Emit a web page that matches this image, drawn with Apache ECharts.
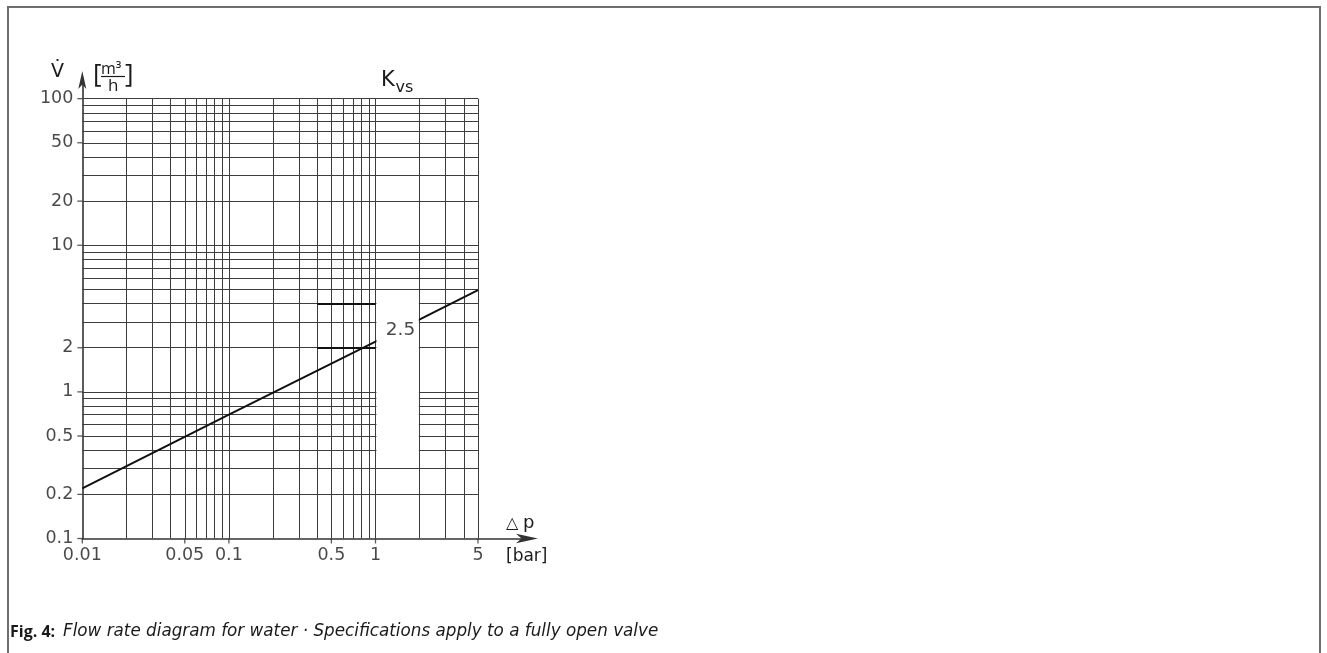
<!DOCTYPE html>
<html>
<head>
<meta charset="utf-8">
<script src="https://cdn.jsdelivr.net/npm/echarts@6/dist/echarts.min.js"></script>
<style>
html,body{margin:0;padding:0;background:#fff;width:1327px;height:653px;overflow:hidden;}
#frame{position:absolute;left:7px;top:6px;width:1314px;height:700px;border:2px solid #6e6e6e;border-bottom:none;box-sizing:border-box;}
#chart{position:absolute;left:0;top:0;width:1327px;height:653px;}
</style>
</head>
<body>
<div id="frame"></div>
<div id="chart"></div>
<script>
// ---- data ----
const dpValues   = [0.01, 0.1, 1, 5];          // Δp [bar]
const flowValues = [0.22, 0.7, 2.2, 4.95];     // V̇ [m³/h] for Kvs 2.5 line

const xTickValues = [0.01, 0.05, 0.1, 0.5, 1, 5];
const xTickLabels = ['0.01', '0.05', '0.1', '0.5', '1', '5'];
const yTickValues = [0.1, 0.2, 0.5, 1, 2, 10, 20, 50, 100];
const yTickLabels = ['0.1', '0.2', '0.5', '1', '2', '10', '20', '50', '100'];

const xGridValues = [0.02, 0.03, 0.04, 0.05, 0.06, 0.07, 0.08, 0.09,
                     0.1, 0.2, 0.3, 0.4, 0.5, 0.6, 0.7, 0.8, 0.9,
                     1, 2, 3, 4, 5];
const yGridValues = [0.2, 0.3, 0.4, 0.5, 0.6, 0.7, 0.8, 0.9,
                     1, 2, 3, 4, 5, 6, 7, 8, 9,
                     10, 20, 30, 40, 50, 60, 70, 80, 90, 100];

const kvsLabel = '2.5';
const kvsLabelPos = [1.48, 2.64];
const kvsBox = [1.015, 0.305, 1.975, 4.85];
const kvsMarkValues = [4, 2];
const kvsMarkFrom = 0.4;

const xRange = [0.01, 10.8];
const yRange = [0.1, 134];
const gridXEnd = 5, gridYEnd = 100;

// ---- chart ----
const FONT = '"DejaVu Sans", "Open Sans", sans-serif';
const FONT2 = '"Open Sans", "Noto Sans", sans-serif';
const chart = echarts.init(document.getElementById('chart'), null, {renderer: 'canvas'});

const gridLines = xGridValues.map(x => ({coords: [[x, yRange[0]], [x, gridYEnd]]}))
  .concat(yGridValues.map(y => ({coords: [[xRange[0], y], [gridXEnd, y]]})));
const kvsSegs = kvsMarkValues.map(y => ({coords: [[kvsMarkFrom, y], [1, y]]}));

const axisCommon = {
  type: 'log', logBase: 10,
  axisTick: {show: false}, axisLabel: {show: false},
  splitLine: {show: false}, minorTick: {show: false}, minorSplitLine: {show: false}
};

const option = {
  animation: false,
  grid: {left: 82.3, right: 800, top: 80, bottom: 114.5},
  xAxis: Object.assign({}, axisCommon, {
    min: xRange[0], max: xRange[1],
    axisLine: {show: true, lineStyle: {color: '#333', width: 1.6},
      symbol: ['none', 'arrow'], symbolSize: [7, 22], symbolOffset: [0, 11]}
  }),
  yAxis: Object.assign({}, axisCommon, {
    min: yRange[0], max: yRange[1],
    axisLine: {show: true, lineStyle: {color: '#333', width: 1.6},
      symbol: ['none', 'arrow'], symbolSize: [6, 18], symbolOffset: [0, 9]}
  }),
  series: [
    {
      type: 'lines', coordinateSystem: 'cartesian2d', polyline: false, silent: true, z: 1,
      lineStyle: {color: '#3c3c3c', width: 1, opacity: 1, curveness: 0},
      data: gridLines
    },
    {
      type: 'lines', coordinateSystem: 'cartesian2d', polyline: false, silent: true, z: 2,
      lineStyle: {color: '#111', width: 1.8, opacity: 1, curveness: 0},
      data: kvsSegs
    },
    {
      type: 'line', z: 3, symbol: 'none', silent: true,
      lineStyle: {color: '#111', width: 2},
      data: dpValues.map((d, i) => [d, flowValues[i]])
    },
    {
      type: 'custom', z: 4, silent: true, clip: false,
      renderItem: function (params, api) {
        const p0 = api.coord([api.value(0), api.value(1)]);
        const p1 = api.coord([api.value(2), api.value(3)]);
        return {
          type: 'rect',
          shape: {x: Math.min(p0[0], p1[0]), y: Math.min(p0[1], p1[1]),
                  width: Math.abs(p1[0] - p0[0]), height: Math.abs(p1[1] - p0[1])},
          style: {fill: '#fff'}
        };
      },
      data: [kvsBox]
    },
    {
      type: 'scatter', z: 5, silent: true, clip: false,
      symbolSize: 1, itemStyle: {color: 'rgba(0,0,0,0)'},
      label: {show: true, position: 'inside', formatter: () => kvsLabel,
              fontSize: 18.5, fontFamily: FONT, color: '#1a1a1a'},
      data: [kvsLabelPos]
    },
    {
      type: 'scatter', z: 5, silent: true, clip: false,
      symbol: 'rect', symbolSize: [1.3, 5], symbolOffset: [0, 2.5],
      itemStyle: {color: '#333'},
      label: {show: true, position: 'bottom', distance: 3,
              formatter: p => xTickLabels[p.dataIndex],
              fontSize: 17.5, fontFamily: FONT, color: '#1a1a1a'},
      data: xTickValues.map(v => [v, yRange[0]])
    },
    {
      type: 'scatter', z: 5, silent: true, clip: false,
      symbol: 'rect', symbolSize: [5, 1.3], symbolOffset: [-2.5, 0],
      itemStyle: {color: '#333'},
      label: {show: true, position: 'left', distance: 4,
              formatter: p => yTickLabels[p.dataIndex],
              fontSize: 17.5, fontFamily: FONT, color: '#1a1a1a'},
      data: yTickValues.map(v => [xRange[0], v])
    }
  ],
  graphic: [
    {type: 'text', x: 51, y: 72, style: {text: 'V\u0307', font: '19px ' + FONT, fill: '#1a1a1a', verticalAlign: 'middle'}},
    {type: 'text', x: 93, y: 75, style: {text: '[', font: '26px ' + FONT2, fill: '#1a1a1a', verticalAlign: 'middle'}},
    {type: 'text', x: 101, y: 69, style: {text: 'm\u00B3', font: '16px ' + FONT2, fill: '#1a1a1a', verticalAlign: 'middle'}},
    {type: 'line', shape: {x1: 101, y1: 76.5, x2: 125, y2: 76.5}, style: {stroke: '#1a1a1a', lineWidth: 1.2}},
    {type: 'text', x: 108, y: 86, style: {text: 'h', font: '17px ' + FONT2, fill: '#1a1a1a', verticalAlign: 'middle'}},
    {type: 'text', x: 125, y: 75, style: {text: ']', font: '26px ' + FONT2, fill: '#1a1a1a', verticalAlign: 'middle'}},
    {type: 'text', x: 381, y: 80.5, style: {text: 'K', font: '21px ' + FONT, fill: '#1a1a1a', verticalAlign: 'middle'}},
    {type: 'text', x: 395.5, y: 88, style: {text: 'vs', font: '16px ' + FONT, fill: '#1a1a1a', verticalAlign: 'middle'}},
    {type: 'text', x: 506, y: 524, style: {text: '\u25B3', font: '16px ' + FONT, fill: '#1a1a1a', verticalAlign: 'middle'}},
    {type: 'text', x: 523, y: 523, style: {text: 'p', font: '18px ' + FONT, fill: '#1a1a1a', verticalAlign: 'middle'}},
    {type: 'text', x: 506, y: 557, style: {text: '[bar]', font: '17px ' + FONT, fill: '#1a1a1a', verticalAlign: 'middle'}},
    {type: 'text', x: 10, y: 632, style: {text: 'Fig. 4:', font: 'bold 16px ' + FONT2, fill: '#1a1a1a', verticalAlign: 'middle'}},
    {type: 'text', x: 63, y: 632, style: {text: 'Flow rate diagram for water \u00B7 Specifications apply to a fully open valve', font: 'italic 16.8px ' + FONT, fill: '#1a1a1a', verticalAlign: 'middle'}}
  ]
};
chart.setOption(option);
</script>
</body>
</html>
